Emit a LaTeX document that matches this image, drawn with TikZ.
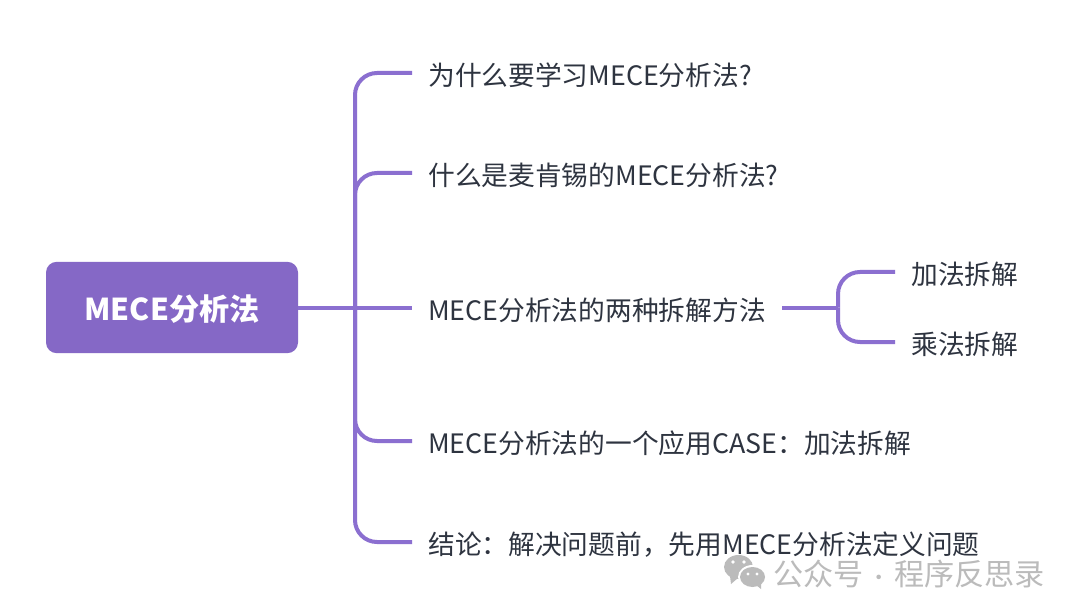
\documentclass[tikz,border=0pt]{standalone}
\usepackage{fontspec}
\setmainfont{Noto Sans CJK SC}
\definecolor{lineP}{HTML}{8B6FD0}
\definecolor{rootP}{HTML}{8568C6}
\definecolor{txtD}{HTML}{2E3440}
\definecolor{wm}{HTML}{BBBBBB}
\tikzset{
  link/.style={draw=lineP,line width=3pt,rounded corners=16.5pt},
  topic/.style={anchor=west,inner xsep=12pt,inner ysep=0pt,text=txtD,font=\fontsize{20.05}{24}\selectfont,text height=19pt,text depth=0pt},
  rootbox/.style={fill=rootP,draw=none,rounded corners=8pt,minimum width=189pt,minimum height=68.5pt,text=white,font=\fontsize{22.6}{26}\selectfont\bfseries,inner sep=0pt,text height=20pt,text depth=0pt},
  bubble/.style={fill=wm,draw=none},
  eye/.style={fill=white,draw=none}
}
\begin{document}
\begin{tikzpicture}[x=0.75pt,y=-0.75pt]
\useasboundingbox (0,0) rectangle (1080,616);
\fill[white] (0,0) rectangle (1080,616);
\node[rootbox] (root) at (172,307.5) {MECE分析法};
\node[topic] (n1) at (412,73) {为什么要学习MECE分析法?};
\node[topic] (n2) at (412,173) {什么是麦肯锡的MECE分析法?};
\node[topic] (n3) at (412,307.5) {MECE分析法的两种拆解方法};
\node[topic] (n4) at (412,441) {MECE分析法的一个应用CASE：加法拆解};
\node[topic] (n5) at (412,542) {结论：解决问题前，先用MECE分析法定义问题};
\node[topic] (m1) at (895,272) {加法拆解};
\node[topic] (m2) at (895,342) {乘法拆解};
\coordinate (trunk) at (355,307.5);
\coordinate (fork) at (838,307.5);
\draw[link] (root.east) -- (n3.west);
\draw[link] (trunk) |- (n1.west);
\draw[link] (trunk) |- (n2.west);
\draw[link] (trunk) |- (n4.west);
\draw[link] (trunk) |- (n5.west);
\draw[link] (n3.east) -- (fork);
\draw[link] (fork) |- (m1.west);
\draw[link] (fork) |- (m2.west);
% watermark
\node[anchor=west,inner sep=0pt,text=wm,font=\fontsize{22.6}{26}\selectfont] (wmk) at (773,574) {公众号\makebox[23pt]{\fontsize{16}{20}\selectfont ·}程序反思录};
\fill[bubble] (738.5,567) ellipse (14.5 and 12);
\fill[bubble] (730,576) -- (731,584) -- (738,578) -- cycle;
\fill[white] (752.5,577) ellipse (14.5 and 12);
\fill[bubble] (752.5,577) ellipse (12.5 and 10);
\fill[bubble] (756,585) -- (761,589) -- (761,583) -- cycle;
\fill[white] (733,562) circle (1.9);
\fill[white] (744,562) circle (1.9);
\fill[white] (748,574) circle (1.6);
\fill[white] (757,574) circle (1.6);
\end{tikzpicture}
\end{document}
